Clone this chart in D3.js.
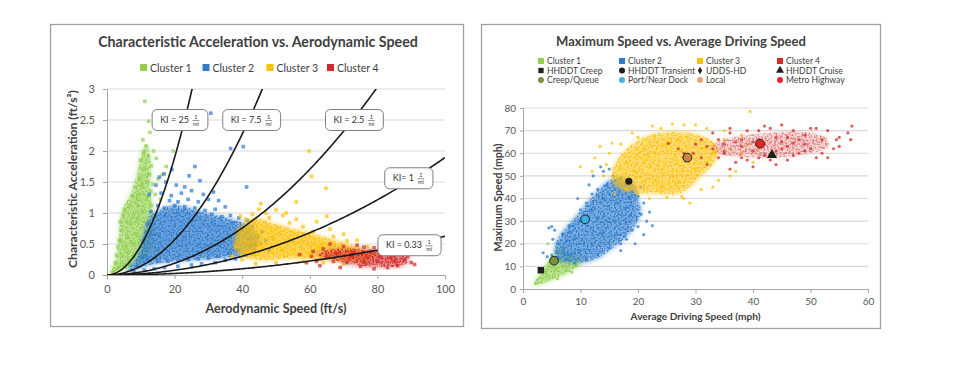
<!DOCTYPE html>
<html><head><meta charset="utf-8">
<script src="https://cdn.jsdelivr.net/npm/d3@7"></script>
<style>body{margin:0;background:#fff}svg{display:block}text{font-family:Lato,"Open Sans",sans-serif}</style>
</head><body><svg id="c" width="960" height="382"></svg>
<script>
// ---------------- DATA ----------------
const clusterNames = ["Cluster 1","Cluster 2","Cluster 3","Cluster 4"];
const clusterColors = ["#92D050","#2F7CCD","#FFC000","#D22B2B"];

// Left chart: characteristic acceleration (ft/s^2) vs aerodynamic speed (ft/s)
const aeroTicks = [0,20,40,60,80,100];
const accelTicks = [0,0.5,1,1.5,2,2.5,3];
const kiValues = [25,7.5,2.5,1,0.33];
const kiLabels = ["KI = 25","KI = 7.5","KI = 2.5","KI= 1","KI = 0.33"];

const aeroCore1 = [[1,0.02],[4.7,0.08],[7.6,0.14],[10,0.22],[12.5,0.34],[13.5,0.6],[13.5,1.0],[12.8,1.4],[12.8,1.9],[11.5,2.1],[10.2,1.95],[8.8,1.6],[7,1.3],[5,1.1],[3.9,0.9],[3.5,0.55],[2.6,0.25]];
const aeroCore2 = [[6,0.05],[10,0.12],[14,0.18],[20,0.22],[26,0.24],[32,0.27],[38,0.3],[42,0.36],[45,0.48],[44.5,0.66],[42,0.8],[38,0.88],[33,0.95],[28,1.02],[24,1.08],[20,1.12],[16,1.06],[13,0.95],[11.5,0.78],[10.5,0.55],[9,0.3]];
const aeroCore3 = [[38,0.42],[41,0.28],[46,0.24],[52,0.26],[58,0.27],[64,0.25],[70,0.22],[75,0.22],[78,0.28],[77,0.38],[72,0.48],[66,0.58],[60,0.68],[54,0.76],[48,0.85],[44,0.92],[40,0.8],[38,0.6]];
const aeroCore4 = [[62,0.32],[66,0.27],[70,0.2],[75,0.15],[80,0.13],[86,0.14],[89,0.2],[89,0.3],[85,0.36],[80,0.4],[74,0.42],[68,0.42],[64,0.38]];

const aeroPts1 = [[11.2,2.8],[12.3,2.48],[12.7,2.3],[10.6,2.18],[11.6,2.08],[13.8,2.0],[12.2,1.92],[10.9,1.98],[19.6,2.0],[17.5,1.75],[13.1,1.76],[14.6,1.88],[9.9,1.85],[11.1,1.72],[12.6,1.62],[9.5,1.56],[10.3,1.46],[8.3,1.42],[11.9,1.5],[13.6,1.46],[15.1,1.55],[16.4,1.62],[7.6,1.27],[8.9,1.22],[14.3,1.3],[15.8,1.22],[6.8,1.12],[5.2,1.06],[4.8,0.96],[3.9,0.86],[4.2,0.72],[3.6,0.56],[3.2,0.45],[2.8,0.32],[2.5,0.2],[3.5,0.12],[5,0.18],[6.5,0.24],[8,0.3],[9.5,0.28],[11,0.4],[12.5,0.5],[13.6,0.72],[14.2,0.96],[13.2,1.12],[7,0.82],[6,0.62],[9,0.9],[10.5,1.02],[8.5,0.66],[5.5,0.45],[7.5,0.52],[11.5,0.7],[12.2,0.86],[4.5,0.3],[6.2,0.36],[10,0.56],[9.2,1.12],[7.8,0.96],[5.8,0.86],[4,0.55],[3,0.1],[2,0.06],[15,0.4],[14.8,0.65],[6.6,0.15],[9.6,1.3],[12,1.25],[13,1.35]];
const aeroPts2 = [[30.7,2.61],[36.6,2.04],[40.3,2.07],[41.3,1.42],[24.3,1.6],[27.5,1.52],[17.4,1.5],[20.5,1.45],[14.5,1.45],[19.2,1.7],[16,1.32],[19,1.28],[22,1.32],[25,1.36],[18.5,1.2],[21,1.18],[24,1.22],[27,1.18],[30,1.22],[33,1.2],[35,1.1],[32,1.06],[36.5,0.96],[39,0.92],[41.5,0.88],[43,0.78],[44.5,0.62],[45.5,0.5],[43.5,0.4],[41,0.32],[38,0.26],[35,0.24],[32,0.2],[28,0.18],[25,0.16],[21,0.14],[17,0.12],[14,0.1],[11,0.08],[8,0.05],[5.5,0.01],[9,0.14],[10.5,0.3],[11,0.56],[12,0.82],[13,1.02],[15,1.12],[17,1.08],[20,1.12],[23,1.1],[26,1.08],[29,1.04],[31,0.98],[34,0.94],[37,0.84],[40,0.72],[42,0.6],[44,0.5],[42.5,0.45],[39,0.4],[36,0.35],[33,0.3],[30,0.27],[27,0.26],[24,0.25],[21,0.24],[18,0.22],[15,0.22],[12,0.25],[28.5,1.3],[31.5,1.34],[23,1.42],[15.5,1.58],[46,0.7],[47,0.55],[48,0.4],[12.5,1.3],[26,1.75],[16.9,1.63]];
const aeroPts3 = [[59.8,2.0],[60.5,1.59],[64.8,1.4],[56,1.18],[50,1.05],[47,1.0],[52,0.96],[56,0.9],[62,0.86],[66,0.74],[70,0.66],[74,0.56],[77,0.46],[80,0.36],[45,1.06],[43,0.98],[41,0.9],[39,0.72],[38,0.46],[40,0.25],[44,0.18],[50,0.2],[58,0.22],[64,0.2],[70,0.18],[76,0.2],[54,0.84],[58,0.78],[61,0.7],[67,0.62],[71,0.55],[48,0.92],[72,0.4],[78,0.32],[68,0.3],[63,0.45],[55,0.55],[49,0.6],[45,0.5],[42,0.38],[60,0.35],[52,0.4],[37,0.3],[39.5,0.95],[53,1.0],[45.5,1.15],[65,0.95]];
const aeroPts4 = [[59,0.2],[60.5,0.3],[62,0.22],[64,0.42],[66,0.5],[68,0.35],[70,0.46],[72,0.3],[74,0.48],[76,0.2],[78,0.38],[80,0.22],[82,0.35],[84,0.28],[86,0.15],[88,0.25],[90,0.2],[91,0.17],[87,0.33],[83,0.12],[79,0.1],[75,0.14],[71,0.2],[69,0.12],[67,0.22],[65,0.3],[73,0.36],[77,0.28],[81,0.3],[85,0.22],[89,0.3],[63,0.15],[61,0.38],[57,0.33],[76,0.45],[82,0.42],[84,0.4],[79,0.44]];

// Right chart: maximum speed (mph) vs average driving speed (mph)
const avgTicks = [0,10,20,30,40,50,60];
const maxTicks = [0,10,20,30,40,50,60,70,80];

const speedCore1 = [[1.8,1.8],[4.7,3.8],[7.6,6.8],[10,11],[10,13.5],[8,15.5],[6.5,18.5],[5.3,15],[4.1,11.4],[3,7],[2.2,3.5]];
const speedCore2 = [[6,13],[9,11.5],[12.5,13],[15,17],[17.5,22],[19.5,28],[20.5,34],[20,40],[19.5,46],[17.5,49],[15,48],[12.5,42],[10.5,36],[8.5,30],[6.5,24],[5.5,18]];
const speedCore3 = [[16,46],[19,43],[23,42],[27,42],[29,45],[31,50],[33,55],[34,60],[33,65],[30,68.5],[26,69.5],[22,68],[19,64],[17,59],[15.5,52]];
const speedCore4 = [[34,60],[38,58.5],[42,58],[46,58.5],[50,60],[53,62.5],[53,66],[51,68.5],[47,69.5],[43,69],[39,68],[35,66],[33,63]];

const speedPts1 = [[4.3,20],[7,18.5],[6,16.5],[5,14],[8,13],[9.5,13],[3,5],[2.5,4],[2.2,2.5],[4,7],[5.5,9],[7,10],[8,11],[6.5,12],[4.6,10],[3.6,8],[5.2,5.5],[7.5,8],[9,10.5],[10.5,12.5],[11,14],[3.2,3],[6,4.5],[8.5,7.5],[10,20],[9,17],[8.8,15.8]];
const speedPts2 = [[4.5,27],[5.5,26],[7,24],[8,28],[9,22],[7.5,21],[10,35],[11,38],[12,42],[13,44],[14,52],[15,53],[15.7,50],[16,48],[17,49],[18,46],[19,43],[20,41],[21,38],[20.5,33],[21.5,30],[20,27.6],[19,26],[18,22],[17,20],[15,18],[13,15],[11,13],[9,11.5],[6,13],[5,15],[4.2,14.3],[6,20],[8,25],[10,30],[12,35],[14,40],[16,44],[18,36],[16,30],[14,25],[12,20],[10,17],[8,15],[13.5,54],[11.5,46],[9.5,40],[22,34],[22.5,28],[21,24],[19.5,20],[17,17],[3.5,16],[5.2,22],[12.2,50],[14.5,46],[20.5,45],[13,31.5],[7,17],[18.5,40],[16.5,38],[5,27.6]];
const speedPts3 = [[39.5,78.5],[13.4,63],[10,54],[12.5,58],[15,60],[14.5,55],[17,64],[20,67],[24,71],[28,72.5],[32,71],[35,70],[38,68],[41,62],[40,56],[37,52],[34,48],[31,44],[28,40],[25,40.5],[22,40],[20,42],[18,44],[27.6,40.8],[29,38],[33,45],[36,50],[16,42],[17.5,48],[19.5,52],[21,56],[23,60],[25,64],[27,66],[29,58],[31,62],[33,60],[26,50],[23,48],[36,62],[38,60],[30,53],[14,50],[12,52],[18,56],[21,62],[24,45],[27,47],[32,56],[35,66],[39,64],[42,65],[43,60],[15.5,64.5],[19,69],[22.5,72],[26,73],[30,72.6]];
const speedPts4 = [[29.6,60],[30,64],[31,58],[33,62],[34,66],[35,60],[36,69],[37,56],[38,63],[39,70],[40,54],[41,66],[42,59],[43,71],[44,55],[45,62],[46,67],[47,70],[48,60],[49,64],[50,71],[51,58],[52,66],[53,70],[54,62],[55,63],[56.5,69],[57,66],[57.2,72],[55,67],[44,67],[46,57],[38,58],[35,64],[42,64],[25.3,64.4],[28,60],[27,62],[32,55],[36,53],[39,57],[41,70],[43,57],[45,65],[47,59],[49,68],[50,62],[52,60],[48,66],[46,63],[40,61],[37,65],[34,58],[31,66],[33,69],[36,71],[42,72],[45,72.5],[51,71],[53,58],[54.5,66],[44,61],[38,66],[40,65],[47,64.5],[49,61],[41,58],[35,61],[32,63]];

// Reference drive cycles
const refNames = ["HHDDT Creep","HHDDT Transient","UDDS-HD","HHDDT Cruise","Creep/Queue","Port/Near Dock","Local","Metro Highway"];
const refAvg = [3.1,18.4,28.2,43.3,5.4,10.8,28.6,41.2];
const refMax = [8.3,47.6,58.1,59.2,12.5,30.8,58.1,64.2];
const refSymbols = ["square","circle","diamond","triangle","circle","circle","circle","circle"];
const refColors = ["#1F1F1F","#1F1F1F","#1F1F1F","#1F1F1F","#77933C","#33B2E6","#C98545","#E8252B"];
const refLegendColors = ["#1F1F1F","#1F1F1F","#1F1F1F","#1F1F1F","#77933C","#3FB3E6","#E6A577","#E8252B"];

// ---------------- DRAW ----------------
const svg = d3.select("#c");
const defs = svg.append("defs");
defs.append("filter").attr("id","soft").attr("x","-15%").attr("y","-15%").attr("width","130%").attr("height","130%")
  .append("feGaussianBlur").attr("stdDeviation",2.6);
// speckle texture for the dense part of each cloud
{
  const f = defs.append("filter").attr("id","speck").attr("x","-10%").attr("y","-10%").attr("width","120%").attr("height","120%");
  f.append("feTurbulence").attr("type","fractalNoise").attr("baseFrequency",0.55).attr("numOctaves",1).attr("seed",4).attr("result","noise");
  f.append("feColorMatrix").attr("in","noise").attr("type","matrix")
    .attr("values","0 0 0 0 0  0 0 0 0 0  0 0 0 0 0  5 0 0 0 -2.2").attr("result","mask");
  f.append("feComposite").attr("in","SourceGraphic").attr("in2","mask").attr("operator","in").attr("result","sp");
  f.append("feGaussianBlur").attr("in","sp").attr("stdDeviation",0.35);
}

const textCol = "#404040", tickCol = "#595959", gridCol = "#D9D9D9", axisCol = "#A6A6A6";

function fit(sel, target){
  const w = sel.node().getComputedTextLength();
  const fs = parseFloat(sel.attr("font-size"));
  sel.attr("font-size", (fs*target/w).toFixed(2));
}

// panel borders
svg.append("rect").attr("x",50.5).attr("y",24.5).attr("width",413).attr("height",302)
  .attr("fill","#fff").attr("stroke","#A0A0A0").attr("stroke-width",1.3);
svg.append("rect").attr("x",481.5).attr("y",24.5).attr("width",399).attr("height",304)
  .attr("fill","#fff").attr("stroke","#A0A0A0").attr("stroke-width",1.3);

function axes(g, x, y, xt, yt, o){
  g.selectAll("line.grid").data(yt.filter(d=>d>0)).join("line").attr("class","grid")
    .attr("x1",x.range()[0]).attr("x2",x.range()[1]).attr("y1",d=>y(d)).attr("y2",d=>y(d))
    .attr("stroke",gridCol).attr("stroke-width",1.1);
  const ax = g.append("g").attr("transform",`translate(0,${y(0)})`)
    .call(d3.axisBottom(x).tickValues(xt).tickSize(4).tickPadding(o.xpad).tickFormat(d3.format("~g")));
  const ay = g.append("g").attr("transform",`translate(${x(0)},0)`)
    .call(d3.axisLeft(y).tickValues(yt).tickSize(o.ytick).tickPadding(o.ypad).tickFormat(d3.format("~g")));
  [ax,ay].forEach(a=>{
    a.select(".domain").attr("stroke",axisCol);
    a.selectAll(".tick line").attr("stroke",axisCol);
    a.selectAll(".tick text").attr("fill",tickCol).attr("font-size",o.fs).attr("font-family","Lato,sans-serif");
  });
}

function cloud(g, x, y, core, pts, color, shape, coreOp, speckOp){
  const path = d3.line().x(d=>x(d[0])).y(d=>y(d[1])).curve(d3.curveCatmullRomClosed.alpha(0.5));
  g.append("path").datum(core).attr("d", path)
    .attr("fill", color).attr("fill-opacity", coreOp).attr("filter","url(#soft)");
  g.append("path").datum(core).attr("d", path)
    .attr("fill", color).attr("fill-opacity", speckOp).attr("filter","url(#speck)");
  if (shape==="square"){
    g.selectAll(null).data(pts).join("rect")
      .attr("x",d=>x(d[0])-1.8).attr("y",d=>y(d[1])-1.8).attr("width",3.6).attr("height",3.6)
      .attr("fill",color).attr("fill-opacity",0.72);
  } else {
    g.selectAll(null).data(pts).join("circle")
      .attr("cx",d=>x(d[0])).attr("cy",d=>y(d[1])).attr("r",1.6)
      .attr("fill",color).attr("fill-opacity",0.75);
  }
}

// ===== LEFT CHART =====
{
  const x = d3.scaleLinear().domain([0,100]).range([107,445]);
  const y = d3.scaleLinear().domain([0,3]).range([275,89]);
  const g = svg.append("g");
  defs.append("clipPath").attr("id","clipL").append("rect")
    .attr("x",107).attr("y",89).attr("width",338).attr("height",186);

  const t = g.append("text").attr("x",258).attr("y",47).attr("text-anchor","middle")
    .attr("font-size",14).attr("font-weight","bold").attr("fill",textCol)
    .text("Characteristic Acceleration vs. Aerodynamic Speed");
  fit(t,320);

  const legX = [140,202.5,266.5,327];
  clusterNames.forEach((n,i)=>{
    g.append("rect").attr("x",legX[i]).attr("y",64).attr("width",7).attr("height",7).attr("fill",clusterColors[i]);
    g.append("text").attr("x",legX[i]+10).attr("y",71.5).attr("font-size",10.5).attr("fill",textCol).text(n);
  });

  axes(g,x,y,aeroTicks,accelTicks,{xpad:6,ypad:8,ytick:4,fs:11});

  const pg = g.append("g").attr("clip-path","url(#clipL)");
  const cores=[aeroCore1,aeroCore2,aeroCore3,aeroCore4], pts=[aeroPts1,aeroPts2,aeroPts3,aeroPts4];
  [0.6,0.7,0.62,0.62].forEach((op,i)=>cloud(pg,x,y,cores[i],pts[i],clusterColors[i],"square",op,0.95));

  // KI curves: a = KI * v^2 / 5280
  const vs = d3.range(0,100.01,0.5);
  kiValues.forEach(k=>{
    pg.append("path").datum(vs.map(v=>[v,k*v*v/5280]))
      .attr("d", d3.line().x(d=>x(d[0])).y(d=>y(d[1])))
      .attr("fill","none").attr("stroke","#1a1a1a").attr("stroke-width",1.6);
  });

  // KI label boxes
  const boxAt = [[21.6,2.5],[42.8,2.5],[73.2,2.5],[89.3,1.56],[89.5,0.48]];
  kiLabels.forEach((lab,i)=>{
    const cx = x(boxAt[i][0]), cy = y(boxAt[i][1]);
    const bg = g.append("g");
    const r = bg.append("rect").attr("fill","#fff").attr("stroke","#7F7F7F").attr("stroke-width",1).attr("rx",5);
    const tt = bg.append("text").attr("font-size",9).attr("fill","#333").attr("y",cy+3.2).text(lab);
    const tw = tt.node().getComputedTextLength();
    const fw = 8, gap = 3, pad = 8;
    const W = tw+gap+fw+2*pad;
    const x0 = cx - W/2;
    tt.attr("x", x0+pad);
    const fx = x0+pad+tw+gap+fw/2;
    bg.append("text").attr("x",fx).attr("y",cy-1).attr("text-anchor","middle").attr("font-size",5.5).attr("fill","#333").text("1");
    bg.append("line").attr("x1",fx-3.5).attr("x2",fx+3.5).attr("y1",cy+0.5).attr("y2",cy+0.5).attr("stroke","#333").attr("stroke-width",0.5);
    bg.append("text").attr("x",fx).attr("y",cy+5.5).attr("text-anchor","middle").attr("font-size",5.5).attr("fill","#333").text("mi");
    r.attr("x",x0).attr("y",cy-10.5).attr("width",W).attr("height",21);
  });

  const xt = g.append("text").attr("x",276).attr("y",313).attr("text-anchor","middle")
    .attr("font-size",12).attr("font-weight","bold").attr("fill",textCol).text("Aerodynamic Speed (ft/s)");
  fit(xt,141);
  const yt = g.append("text").attr("transform","translate(76.5,179) rotate(-90)").attr("text-anchor","middle")
    .attr("font-size",12).attr("font-weight","bold").attr("fill",textCol).text("Characteristic Acceleration (ft/s²)");
  fit(yt,178);
}

// ===== RIGHT CHART =====
{
  const x = d3.scaleLinear().domain([0,60]).range([523,868]);
  const y = d3.scaleLinear().domain([0,80]).range([289,108]);
  const g = svg.append("g");

  const t = g.append("text").attr("x",681).attr("y",46).attr("text-anchor","middle")
    .attr("font-size",13).attr("font-weight","bold").attr("fill",textCol)
    .text("Maximum Speed vs. Average Driving Speed");
  fit(t,250);

  const colX = [541,622,700,780];
  const rowY = [61,70.5,80];
  clusterNames.forEach((n,i)=>{
    g.append("rect").attr("x",colX[i]-3).attr("y",rowY[0]-3).attr("width",6).attr("height",6).attr("fill",clusterColors[i]);
    g.append("text").attr("x",colX[i]+6).attr("y",rowY[0]+3).attr("font-size",8.6).attr("fill",textCol).text(n);
  });
  const sym = {square:d3.symbolSquare,circle:d3.symbolCircle,diamond:d3.symbolDiamond,triangle:d3.symbolTriangle};
  refNames.forEach((n,i)=>{
    const cx = colX[i%4], cy = rowY[1+Math.floor(i/4)];
    g.append("path").attr("transform",`translate(${cx},${cy})`)
      .attr("d", d3.symbol(sym[refSymbols[i]], refSymbols[i]==="diamond"?16:28)())
      .attr("fill",refLegendColors[i]);
    g.append("text").attr("x",cx+6).attr("y",cy+3).attr("font-size",8.6).attr("fill",textCol).text(n);
  });

  axes(g,x,y,avgTicks,maxTicks,{xpad:5,ypad:4,ytick:3,fs:10});

  const cores=[speedCore1,speedCore2,speedCore3,speedCore4], pts=[speedPts1,speedPts2,speedPts3,speedPts4];
  [[0.6,0.95],[0.62,0.95],[0.5,0.85],[0.18,0.5]].forEach((op,i)=>cloud(g,x,y,cores[i],pts[i],clusterColors[i],"circle",op[0],op[1]));

  refNames.forEach((n,i)=>{
    const s = refSymbols[i];
    const big = i>=4;
    const size = s==="square"?42 : s==="triangle"?46 : s==="diamond"?30 : (big?60:40);
    g.append("path").attr("transform",`translate(${x(refAvg[i])},${y(refMax[i])})`)
      .attr("d", d3.symbol(sym[s], size)())
      .attr("fill",refColors[i])
      .attr("stroke", big?"#262626":"none").attr("stroke-width",1);
  });

  const xt = g.append("text").attr("x",695.5).attr("y",320).attr("text-anchor","middle")
    .attr("font-size",11).attr("font-weight","bold").attr("fill",textCol).text("Average Driving Speed (mph)");
  fit(xt,130);
  const yt = g.append("text").attr("transform","translate(502,197.5) rotate(-90)").attr("text-anchor","middle")
    .attr("font-size",11).attr("font-weight","bold").attr("fill",textCol).text("Maximum Speed (mph)");
  fit(yt,108);
}
</script></body></html>
